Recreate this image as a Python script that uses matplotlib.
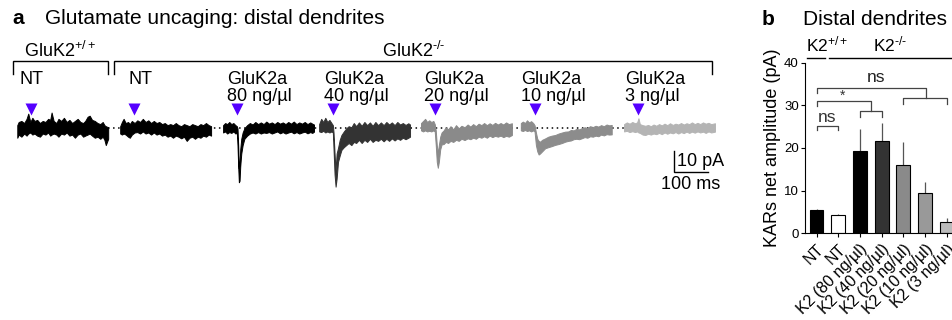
import matplotlib
matplotlib.use('Agg')
import matplotlib.pyplot as plt
import numpy as np

plt.rcParams['font.family'] = ['Liberation Sans', 'DejaVu Sans']
plt.rcParams['mathtext.fontset'] = 'custom'
plt.rcParams['mathtext.rm'] = 'Liberation Sans'
plt.rcParams['mathtext.it'] = 'Liberation Sans:italic'
plt.rcParams['mathtext.bf'] = 'Liberation Sans:bold'

# ── panel a: traces (envelope of the noisy recording, ms / pA) ──────────
# (time from trace start, upper edge, lower edge)
trace_wt_nt = [
    (0, 1.5, -4.5), (4, 3.0, -3.0), (12, 3.5, -4.0), (20, 2.5, -2.5), (27, 4.5, -3.5),
    (32, 7.0, -2.5), (38, 3.0, -2.0), (44, 5.0, -3.0), (50, 3.5, -2.5), (58, 4.0, -3.5),
    (66, 2.5, -4.0), (74, 3.5, -2.5), (82, 3.0, -3.0), (90, 4.5, -2.0), (96, 4.0, -3.5),
    (100, 7.5, -3.0), (106, 3.5, -2.5), (114, 2.5, -3.0), (120, 4.5, -4.0), (128, 3.5, -2.5),
    (136, 5.0, -3.0), (144, 3.0, -2.0), (152, 4.0, -3.5), (160, 2.5, -3.0), (168, 3.5, -4.5),
    (176, 4.5, -3.0), (184, 3.0, -2.5), (192, 2.5, -4.0), (198, 3.5, -3.5), (205, 5.5, -3.0),
    (211, 6.0, -2.5), (218, 4.0, -3.5), (226, 3.5, -4.5), (234, 2.5, -4.0), (242, 2.0, -5.0),
    (249, 3.0, -4.0), (254, 1.5, -5.5), (258, 1.0, -8.0), (265, 0.5, -5.0)]
trace_ko_nt = [
    (0, 1.0, -2.5), (5, 3.0, -3.0), (10, 4.5, -2.5), (16, 2.5, -3.0), (23, 3.0, -4.0),
    (28, 2.0, -4.5), (34, 3.5, -3.0), (42, 2.5, -2.0), (50, 3.8, -1.8), (58, 3.0, -2.5),
    (66, 4.5, -1.5), (74, 3.0, -2.5), (82, 3.8, -2.0), (90, 2.5, -3.0), (98, 3.5, -2.0),
    (106, 2.5, -3.0), (114, 3.0, -2.5), (122, 2.0, -3.5), (130, 2.5, -3.0), (138, 1.5, -4.0),
    (146, 2.0, -3.5), (154, 1.5, -4.5), (162, 2.5, -3.5), (170, 1.5, -4.0), (178, 1.0, -4.8),
    (186, 2.0, -4.0), (194, 1.5, -6.0), (202, 1.0, -4.5), (210, 2.0, -4.0), (218, 1.5, -5.0),
    (226, 1.0, -4.0), (234, 2.0, -4.5), (242, 1.5, -3.5), (250, 2.5, -4.0), (258, 1.5, -3.0),
    (265, 1.0, -3.5)]
trace_80 = [
    (0, 1.5, -2.0), (6, 2.5, -1.5), (12, 2.0, -2.5), (18, 3.0, -1.8), (24, 2.0, -2.2),
    (30, 2.5, -1.5), (36, 1.5, -2.5), (40, 1.0, -2.0), (42, 0.0, -8.0), (44, -8.0, -18.0),
    (46, -19.0, -25.7), (48, -17.0, -25.0), (50, -10.0, -18.0), (53, -5.0, -12.0),
    (57, -2.0, -8.0), (62, 0.0, -5.0), (70, 1.5, -3.5), (78, 2.5, -2.5), (86, 1.8, -2.0),
    (94, 3.0, -2.5), (102, 2.0, -1.8), (110, 2.8, -2.5), (118, 2.0, -2.0), (126, 3.2, -2.2),
    (134, 2.2, -1.8), (142, 2.8, -2.5), (150, 2.0, -2.0), (158, 3.0, -1.5), (166, 2.2, -2.4),
    (174, 2.8, -1.8), (182, 2.0, -2.5), (190, 3.0, -2.0), (198, 2.2, -1.6), (206, 3.2, -2.4),
    (214, 2.0, -1.8), (222, 2.8, -2.5), (230, 2.2, -2.0), (238, 3.0, -1.6), (246, 2.0, -2.4),
    (254, 2.8, -1.8), (260, 2.2, -2.2), (265, 1.8, -1.6)]
trace_40 = [
    (0, 2.0, -1.5), (6, 4.5, -1.8), (12, 3.0, -1.2), (18, 5.0, -2.0), (24, 3.0, -1.5),
    (30, 4.0, -2.0), (36, 2.5, -1.5), (40, 1.5, -2.0), (42, -2.0, -10.0), (45, -12.0, -22.0),
    (48, -20.0, -27.8), (51, -12.0, -24.0), (55, -9.4, -16.0), (60, -5.5, -13.0),
    (65, -3.2, -10.3), (72, -1.5, -9.0), (79, 0.0, -8.0), (86, 1.0, -7.0), (94, 0.5, -8.0),
    (101, 2.5, -6.5), (108, 1.0, -7.0), (116, 2.8, -5.5), (124, 1.2, -7.0), (132, 3.0, -5.5),
    (140, 1.5, -6.5), (148, 2.8, -5.0), (156, 1.2, -6.5), (164, 3.0, -5.5), (172, 1.5, -6.0),
    (180, 2.8, -5.0), (188, 1.5, -6.2), (196, 3.0, -5.0), (204, 1.8, -6.0), (212, 2.8, -4.8),
    (220, 1.5, -5.8), (228, 3.0, -4.8), (236, 1.8, -5.5), (244, 2.5, -4.5), (252, 1.6, -5.2),
    (260, 2.4, -4.5), (265, 1.8, -4.0)]
trace_20 = [
    (0, 2.5, -1.0), (6, 3.5, -1.5), (12, 4.5, -1.0), (18, 3.0, -1.5), (24, 3.8, -1.2),
    (30, 3.0, -1.5), (36, 3.5, -1.0), (40, 2.0, -1.5), (43, -1.0, -8.0), (46, -8.0, -16.0),
    (49, -12.0, -18.8), (52, -8.0, -16.0), (56, -4.0, -10.0), (60, -2.0, -7.7),
    (66, -1.0, -7.5), (72, 0.5, -6.5), (79, -0.5, -7.0), (86, 1.0, -6.0), (94, -0.5, -6.5),
    (102, 1.5, -5.5), (110, 0.0, -6.0), (118, 1.2, -5.0), (127, 0.5, -5.6), (136, 1.8, -4.8),
    (144, 0.8, -5.2), (152, 2.0, -4.5), (160, 1.0, -5.0), (168, 2.2, -4.0), (176, 1.5, -4.5),
    (184, 2.5, -3.8), (192, 1.5, -4.5), (200, 2.4, -3.5), (208, 1.6, -4.2), (216, 2.6, -3.6),
    (224, 1.8, -4.0), (232, 2.5, -3.5), (240, 1.8, -4.2), (248, 2.8, -3.6), (256, 2.0, -4.0),
    (265, 2.4, -3.2)]
trace_10 = [
    (0, 2.5, -1.0), (6, 3.2, -1.3), (12, 2.5, -0.8), (18, 3.8, -1.3), (24, 2.8, -1.0),
    (30, 3.4, -1.5), (36, 2.5, -1.0), (40, 1.5, -1.5), (44, -2.0, -8.0), (48, -5.0, -11.0),
    (52, -6.0, -12.5), (56, -6.4, -12.0), (62, -5.5, -11.0), (71, -4.8, -9.5),
    (80, -4.0, -9.0), (90, -3.5, -8.5), (100, -3.2, -7.9), (110, -2.5, -7.5), (120, -2.0, -7.0),
    (129, -1.6, -6.4), (138, -1.5, -6.0), (146, -0.8, -5.8), (154, -1.0, -5.2), (162, -0.3, -5.0),
    (170, -0.5, -5.2), (177, 0.0, -4.8), (186, 0.5, -4.2), (194, 0.2, -4.5), (202, 1.0, -3.8),
    (210, 0.6, -4.0), (218, 1.2, -3.5), (226, 0.8, -3.8), (234, 1.5, -3.0), (242, 1.0, -3.4),
    (250, 1.8, -2.8), (258, 1.4, -3.0), (265, 1.6, -2.9)]
trace_3 = [
    (0, 2.0, -1.5), (8, 2.8, -1.2), (16, 2.2, -1.8), (24, 3.0, -1.4), (32, 2.4, -1.8),
    (38, 2.8, -1.5), (42, 4.8, -2.0), (46, 2.0, -2.2), (54, 1.5, -3.0), (62, 1.2, -3.2),
    (70, 1.6, -2.6), (78, 1.0, -3.0), (86, 1.8, -2.5), (94, 1.2, -2.8), (102, 2.0, -2.2),
    (110, 1.4, -2.8), (118, 2.2, -2.0), (126, 1.5, -2.6), (134, 2.4, -2.0), (142, 1.6, -2.4),
    (150, 2.2, -1.8), (158, 1.8, -2.5), (166, 2.5, -1.8), (174, 1.8, -2.3), (182, 2.4, -1.6),
    (190, 2.0, -2.2), (198, 2.8, -1.6), (206, 2.0, -2.1), (214, 2.6, -1.5), (222, 2.0, -2.0),
    (230, 2.8, -1.6), (238, 2.2, -2.2), (246, 2.6, -1.5), (254, 2.0, -2.0), (265, 2.4, -1.6)]

traces = [trace_wt_nt, trace_ko_nt, trace_80, trace_40, trace_20, trace_10, trace_3]
trace_start_ms = [0, 300, 600, 880, 1177, 1468, 1769]
trace_colors = ['black', 'black', 'black', '#333333', '#8a8a8a', '#8c8c8c', '#b4b4b4']
uncage_ms = 40
cond_line1 = ['NT', 'NT', 'GluK2a', 'GluK2a', 'GluK2a', 'GluK2a', 'GluK2a']
cond_line2 = ['', '', '80 ng/µl', '40 ng/µl', '20 ng/µl', '10 ng/µl', '3 ng/µl']
scale_ms, scale_pA = 100, 10

# ── panel b: bars ─────────────────────────────────────────────────────
bar_labels = ['NT', 'NT', 'K2 (80 ng/µl)', 'K2 (40 ng/µl)', 'K2 (20 ng/µl)',
              'K2 (10 ng/µl)', 'K2 (3 ng/µl)']
amp = [5.5, 4.2, 19.3, 21.6, 16.1, 9.45, 2.65]
sem = [0.3, 0.25, 5.1, 4.3, 5.3, 2.65, 1.0]
bar_colors = ['black', 'white', 'black', '#333333', '#8a8a8a', '#999999', '#bbbbbb']

W, H = 953, 320
fig = plt.figure(figsize=(W / 100, H / 100), dpi=100)


def fx(x):
    return x / W


def fy(y):
    return 1 - y / H


WT = '$^{+/+}$'
KO = '$^{\u2010/\u2010}$'

# ── panel a ──
ax = fig.add_axes([0, 0, 760 / W, 1])
ax.axis('off')
ax.set_xlim(-50.4, 2165.3)
ax.set_ylim(-91.3, 61.1)

# baseline dotted
ax.plot([trace_start_ms[0] + 265, trace_start_ms[-1]], [0, 0], color='black',
        lw=1.1, ls=(0, (1, 2.3)), zorder=1)

for tr, t0, c in zip(traces, trace_start_ms, trace_colors):
    arr = np.array(tr)
    t = t0 + arr[:, 0]
    ax.fill_between(t, arr[:, 2], arr[:, 1], color=c, ec=c, lw=0.7, zorder=2)
    ax.plot(t0 + uncage_ms, 9.2, marker='v', ms=8.5, color='#5500ff', mec='none', zorder=3)

# brackets
for x0, x1 in [(-11.7, 263.6), (282.8, 2026)]:
    ax.plot([x0, x0, x1, x1], [25.9, 32.2, 32.2, 25.9], color='black', lw=1.0,
            solid_joinstyle='miter')
ax.text(125, 34.0, 'GluK2' + WT, ha='center', va='baseline', fontsize=13)
ax.text(1157, 34.0, 'GluK2' + KO, ha='center', va='baseline', fontsize=13)

label_px = [20, 128, 227, 324, 424, 521, 625]
for xp, l1, l2 in zip(label_px, cond_line1, cond_line2):
    fig.text(fx(xp), fy(83.5), l1, ha='left', va='baseline', fontsize=13)
    if l2:
        fig.text(fx(xp), fy(101), l2, ha='left', va='baseline', fontsize=13)

# scale bar
sx, sy = 1915, -21
ax.plot([sx, sx, sx + scale_ms], [sy + scale_pA, sy, sy], color='black', lw=1.0,
        solid_joinstyle='miter')
ax.text(sx + 7, sy + scale_pA / 2, f'{scale_pA} pA', ha='left', va='center', fontsize=13)
ax.text(sx + scale_ms / 2 - 2, -26.7, f'{scale_ms} ms', ha='center', va='center', fontsize=13)

fig.text(fx(12.5), fy(24), 'a', fontsize=15, fontweight='bold', va='baseline')
fig.text(fx(45), fy(24), 'Glutamate uncaging: distal dendrites', fontsize=15, va='baseline')

# ── panel b ──
axb = fig.add_axes([fx(805), fy(233.3), (953 - 805) / W, (233.3 - 62.5) / H])
x = np.arange(len(amp))
axb.bar(x, amp, width=0.645, color=bar_colors, edgecolor='black', lw=0.8, zorder=2)
axb.errorbar(x, amp, yerr=[np.zeros(len(sem)), sem], fmt='none', ecolor='#555555',
             elinewidth=0.9, capsize=0, zorder=1)
axb.set_xlim(-0.53, 6.29)
axb.set_ylim(0, 40)
axb.set_yticks([0, 10, 20, 30, 40])
for s in ['top', 'right']:
    axb.spines[s].set_visible(False)
for s in ['left', 'bottom']:
    axb.spines[s].set_linewidth(0.8)
axb.tick_params(axis='both', length=3, width=0.8, labelsize=9.5, pad=1.5)
axb.tick_params(axis='x', pad=3)
axb.set_xticks(x)
axb.set_xticklabels(bar_labels, rotation=45, ha='right', rotation_mode='anchor', fontsize=11.5)
axb.set_ylabel('KARs net amplitude (pA)', fontsize=13, labelpad=2)


def bracket(x0, x1, y, drop, **kw):
    axb.plot([x0, x0, x1, x1], [y - drop, y, y, y - drop], clip_on=False,
             color='#444444', lw=0.9, **kw)


# ns: NT vs NT
bracket(0, 1, 25.2, 1.1)
axb.text(0.5, 25.4, 'ns', ha='center', va='bottom', fontsize=12.5, color='#333333')
# *: NT vs 80/40
axb.plot([0, 0, 2.5, 2.5], [29.7, 31.1, 31.1, 28.7], clip_on=False, color='#444444', lw=0.9)
bracket(2, 3, 28.7, 1.4)
axb.text(1.2, 30.6, '*', ha='center', va='bottom', fontsize=10, color='#333333')
# ns: NT vs 20/10/3
axb.plot([0, 0, 5.03, 5.03], [32.8, 34.0, 34.0, 31.6], clip_on=False, color='#444444', lw=0.9)
bracket(4, 6, 31.6, 1.3)
axb.text(2.75, 34.8, 'ns', ha='center', va='bottom', fontsize=12.5, color='#222222')

# genotype lines
axb.plot([-0.45, 0.4], [41.0, 41.0], color='black', lw=1.0, clip_on=False)
axb.plot([0.58, 6.29], [41.0, 41.0], color='black', lw=1.0, clip_on=False)
axb.text(-0.5, 42.6, 'K2' + WT, ha='left', va='baseline', fontsize=12.5)
axb.text(3.4, 42.6, 'K2' + KO, ha='center', va='baseline', fontsize=12.5)

fig.text(fx(762), fy(25), 'b', fontsize=15, fontweight='bold', va='baseline')
fig.text(fx(803), fy(25), 'Distal dendrites', fontsize=15, va='baseline')

fig.savefig('out.png', dpi=100, facecolor='white')
